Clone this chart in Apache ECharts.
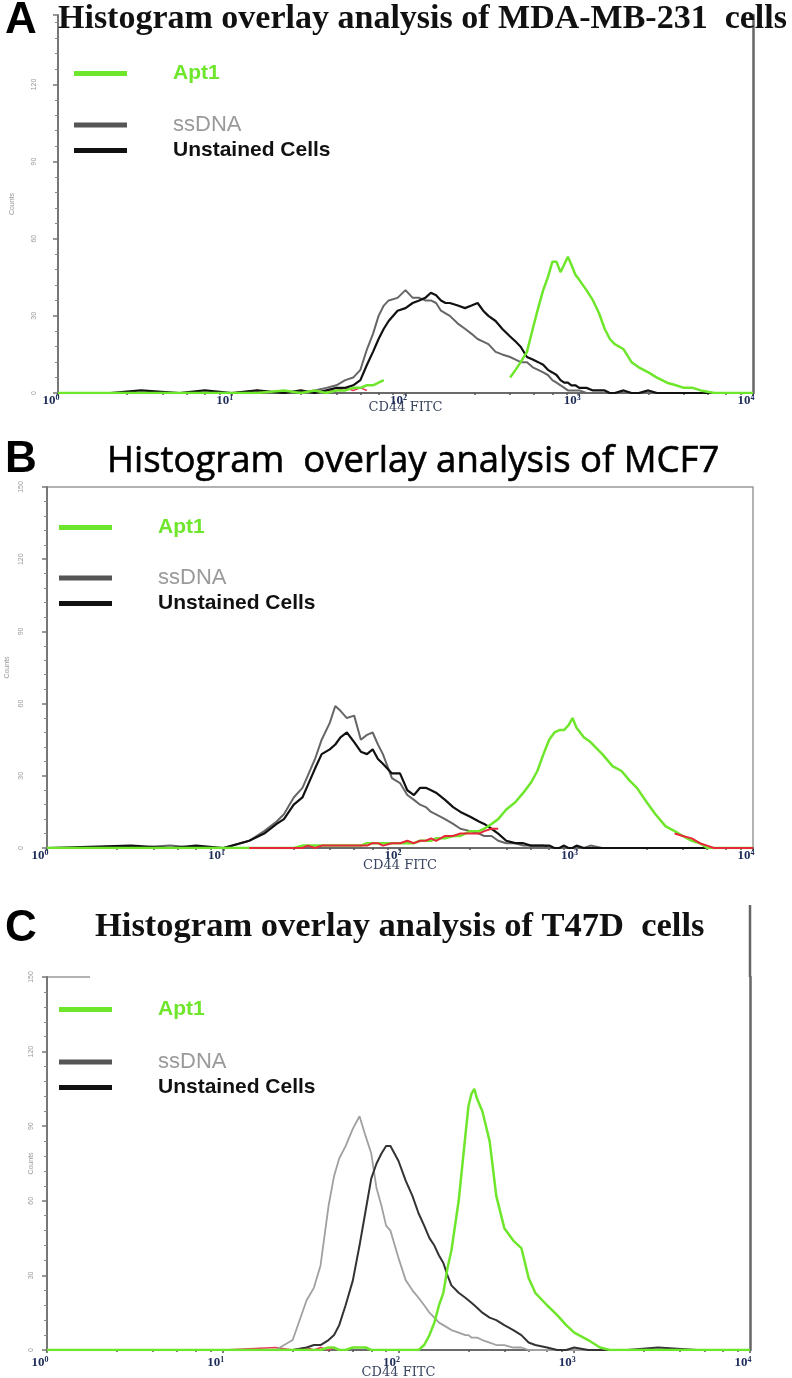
<!DOCTYPE html>
<html><head><meta charset="utf-8">
<script src="https://cdn.jsdelivr.net/npm/echarts@6/dist/echarts.min.js"></script>
<style>html,body{margin:0;padding:0;background:#fff}#chart{width:792px;height:1378px}</style>
</head><body><div id="chart"></div>
<script>
// ---------- Panel A : MDA-MB-231 ----------
const fitcA = [1,2,3,5,7, 10,14,20,25,30, 35,40,45,50,55, 60,65,70,75,80, 90,100,110,120,130, 140,150,160,170,180, 200,220,240,260,280, 300,330,360,400,430, 460,500,540,580,620, 660,700,740,780,820, 860,900,950,1000,1100, 1200,1300,1400,1500,1600, 1800,2000,2200,2500,2800, 3200,3600,4000,4500,5000, 6000,8000,10000];
const ssdnaA = [0,0,0,0,0, 0,0,0,0,1, 2,3,5,6,9, 17,23,30,34,36, 37,40,37,37,36, 36,35,32,31,30, 27,25,23,21,20, 19,16,15,14,13, 12,12,10,9,8, 7,5,4,3,2, 1,1,1,1,0, 0,0,0,0,0, 0,0,0,0,0, 0,0,0,0,0, 0,0,0];
const unstA = [0,0,1,0,1, 0,1,0,1,0, 1,2,2,3,5, 11,16,21,25,28, 32,33,35,36,37, 39,38,36,35,35, 34,33,34,35,32, 30,28,25,22,20, 18,14,13,12,11, 9,8,7,5,4, 4,3,3,2,2, 1,1,1,0,0, 1,0,0,1,0, 0,0,0,0,0, 0,0,0];
const apt1A = [0,0,0,0,0, 0,0,1,0,1, 0,1,1,2,2, 3,3,4,5,null, null,null,null,null,null, null,null,null,null,null, null,null,null,null,null, null,null,null,6,9, 12,16,25,33,40, 45,51,51,47,50, 53,50,46,44,40, 36,31,25,21,19, 17,12,10,8,6, 4,3,2,2,1, 0,0,0];
const redA = [null,null,null,null,null, 0,1,0,1,0, 1,1,2,1,2, 1,null,null,null,null, null,null,null,null,null, null,null,null,null,null, null,null,null,null,null, null,null,null,null,null, null,null,null,null,null, null,null,null,null,null, null,null,null,null,null, null,null,null,null,null, null,null,null,null,null, null,null,null,null,null, null,null,null];

// ---------- Panel B : MCF7 ----------
const fitcB = [1,3,5,7,10, 14,17,20,22,25, 28,30,33,36,40, 43,46,50,55,60, 65,70,75,80,90, 100,110,120,130,140, 150,160,180,200,220, 250,280,300,330,360, 400,450,500,550,600, 650,700,750,800,850, 900,950,1000,1100,1200, 1400,1600,1800,2000,2200, 2500,2800,3200,3600,4000, 4500,5000,5500,6000,8000, 10000];
const ssdnaB = [0,0,1,0,0, 3,7,11,14,21, 25,30,37,45,52, 59,57,54,55,45, 47,48,43,39,29, 27,22,20,18,17, 15,14,12,10,8, 7,6,5,5,3, 2,2,1,1,1, 1,0,0,0,0, 0,0,0,0,1, 0,0,0,0,0, 0,0,0,0,0, 0,0,0,0,0, 0];
const unstB = [0,1,0,1,0, 3,6,10,12,18, 21,26,33,39,41, 43,46,48,44,40, 39,41,37,35,31, 31,24,22,25,25, 24,23,20,17,15, 13,11,10,8,6, 3,2,2,1,1, 1,1,0,0,1, 0,0,1,0,0, 0,0,0,0,0, 0,0,0,0,0, 0,0,0,0,0, 0];
const apt1B = [0,0,0,0,0, 0,0,0,0,0, 1,1,1,1,1, 1,1,1,1,1, 2,2,2,2,2, 2,2,2,3,3, 3,4,4,5,5, 7,7,8,10,12, 16,19,23,27,32, 39,45,48,49,49, 51,54,50,46,44, 39,34,32,28,25, 19,14,9,7,5, 3,2,0,0,0, 0];
const redB = [null,null,null,null,null, 0,0,0,0,0, 0,1,0,1,1, 1,1,1,1,1, 1,2,2,1,2, 2,3,2,3,3, 4,3,5,5,6, 6,6,7,8,8, null,null,null,null,null, null,null,null,null,null, null,null,null,null,null, null,null,null,null,null, null,null,null,6,5, 4,2,1,0,0, 0];

// ---------- Panel C : T47D ----------
const fitcC = [1,3,5,10,20, 25,30,33,36,40, 43,46,50,55,60, 65,70,75,80,85, 90,100,110,120,130, 140,150,160,170,180, 190,200,220,240,250, 260,270,280,300,330, 360,400,450,500,550, 600,700,800,900,1000, 1200,1400,1600,2000,3000, 5000,10000];
const ssdnaC = [0,0,0,0,0, 4,20,25,34,58, 70,77,82,89,94, 86,79,65,58,50, 48,37,28,24,21, 18,15,13,11,10, 9,8,7,6,6, 5,5,5,4,3, 2,2,1,1,0, 0,0,0,0,0, 0,0,0,0,0, 0,0];
const unstC = [0,0,0,0,0, 0,1,2,2,4, 6,10,18,28,42, 56,69,75,79,82, 82,76,68,62,55, 50,45,42,38,35, 30,26,23,21,20, 19,18,17,15,13, 12,10,8,6,3, 2,1,0,0,1, 0,0,0,0,1, 0,0];
const apt1C = [0,0,0,0,0, 0,0,0,0,1, 1,0,0,1,1, 1,0,0,0,0, 0,0,0,0,0, 2,6,11,18,23, 33,40,60,86,98, 103,105,101,96,84, 62,49,44,41,29, 23,18,14,10,7, 4,1,0,0,0, 0,0];
const redC = [null,null,null,0,1, 0,1,0,1,0, 1,0,null,null,null, null,null,null,null,null, null,null,null,null,null, null,null,null,null,null, null,null,null,null,null, null,null,null,null,null, null,null,null,null,null, null,null,null,null,null, null,null,null,null,null, null,null];

const yTicks = [0,30,60,90,120,150];

// ---------- styling ----------
const GREEN = '#6ee62c';
const SERIF = '"Liberation Serif","Times New Roman",serif';
const SANS = '"Liberation Sans",Arial,sans-serif';

function pairs(xs, ys){ return xs.map((x,i)=>[x, ys[i]]); }

function xAx(gi, labelMargin, nameGap){
  return {
    type:'log', logBase:10, min:1, max:10000, gridIndex:gi,
    name:'CD44 FITC', nameLocation:'middle', nameGap:nameGap, nameMoveOverlap:false,
    nameTextStyle:{fontFamily:'"DejaVu Serif",serif', fontSize:13, color:'#3a4560'},
    axisLine:{show:true, lineStyle:{color:'#6a6a6a', width:2}},
    axisTick:{show:true, length:3, lineStyle:{color:'#555', width:1.5}},
    minorTick:{show:true, splitNumber:6, length:2, lineStyle:{color:'#555', width:1.5}},
    splitLine:{show:false}, minorSplitLine:{show:false},
    axisLabel:{
      margin:labelMargin, padding:[0,14,0,0],
      formatter: v => '{b|10}{s|' + Math.round(Math.log10(v)) + '}',
      rich:{
        b:{fontFamily:SERIF, fontSize:13, fontWeight:'bold', color:'#1e2d5a', lineHeight:14},
        s:{fontFamily:SERIF, fontSize:8, fontWeight:'bold', color:'#1e2d5a', verticalAlign:'top', lineHeight:14}
      }
    }
  };
}
function yAx(gi, max, labelMargin, nameGap){
  return {
    type:'value', gridIndex:gi, min:0, max:max, interval:30,
    name:'Counts', nameLocation:'middle', nameGap:nameGap, nameMoveOverlap:false,
    nameTextStyle:{fontFamily:SANS, fontSize:7, color:'#999'},
    axisLine:{show:true, lineStyle:{color:'#777', width:2}},
    axisTick:{show:true, length:5, lineStyle:{color:'#777', width:1.5}},
    minorTick:{show:true, splitNumber:5, length:3, lineStyle:{color:'#888', width:1}},
    splitLine:{show:false},
    axisLabel:{rotate:90, fontSize:7, color:'#999', margin:labelMargin, fontFamily:SANS,
      formatter: v => (yTicks.indexOf(v) >= 0 ? String(v) : '')}
  };
}
function rightAx(gi, max){
  return {type:'value', gridIndex:gi, position:'right', min:0, max:max,
    axisLine:{show:true, lineStyle:{color:'#666', width:2.5}},
    axisTick:{show:false}, axisLabel:{show:false}, splitLine:{show:false}};
}
function line(name, gi, xs, ys, color, width, z){
  return {name:name, type:'line', xAxisIndex:gi, yAxisIndex:gi, data:pairs(xs, ys),
    showSymbol:false, symbol:'none', connectNulls:false, animation:false,
    lineStyle:{color:color, width:width}, itemStyle:{color:color}, z:z};
}
function legends(iconLeft, top1, top2){
  const ts = {fontFamily:SANS, fontSize:21, fontWeight:'bold', padding:[0,0,0,41]};
  return [
    {left:iconLeft, top:top1, padding:0, orient:'vertical', icon:'rect', itemWidth:53, itemHeight:5,
     selectedMode:false, textStyle:ts,
     data:[{name:'Apt1', itemStyle:{color:GREEN}, textStyle:{color:GREEN}}]},
    {left:iconLeft, top:top2, padding:0, orient:'vertical', icon:'rect', itemWidth:53, itemHeight:5, itemGap:4,
     selectedMode:false, textStyle:ts,
     data:[{name:'ssDNA', itemStyle:{color:'#555'}, textStyle:{color:'#9a9a9a', fontWeight:'normal', fontSize:22}},
           {name:'Unstained Cells', itemStyle:{color:'#111'}, textStyle:{color:'#111'}}]}
  ];
}

const option = {
  backgroundColor:'#fff',
  animation:false,
  title:[
    {text:'A', left:5, top:-1, padding:0, textStyle:{fontFamily:SANS, fontSize:44, fontWeight:'bold', color:'#000', lineHeight:44}},
    {text:'Histogram overlay analysis of MDA-MB-231  cells', left:58, top:2, padding:0,
     textStyle:{fontFamily:SERIF, fontSize:34, fontWeight:'bold', color:'#111', lineHeight:34}},
    {text:'B', left:5, top:438, padding:0, textStyle:{fontFamily:SANS, fontSize:44, fontWeight:'bold', color:'#000', lineHeight:44}},
    {text:'Histogram  overlay analysis of MCF7', left:107, top:444, padding:0,
     textStyle:{fontFamily:'"Open Sans",sans-serif', fontSize:36.5, fontWeight:'normal', color:'#000', lineHeight:36,
       textBorderColor:'#000', textBorderWidth:0.6}},
    {text:'C', left:5, top:907, padding:0, textStyle:{fontFamily:SANS, fontSize:44, fontWeight:'bold', color:'#000', lineHeight:44}},
    {text:'Histogram overlay analysis of T47D  cells', left:95, top:910, padding:0,
     textStyle:{fontFamily:SERIF, fontSize:34.5, fontWeight:'bold', color:'#111', lineHeight:34}}
  ],
  legend: [].concat(legends(74, 63, 114), legends(59, 517, 567), legends(59, 999, 1051)),
  grid:[
    {left:58, top:15, right:39, bottom:985, outerBoundsMode:'none'},
    {left:47, top:487, right:39, bottom:530, outerBoundsMode:'none', show:true, borderColor:'#999', borderWidth:1.5},
    {left:47, top:977, right:42, bottom:28, outerBoundsMode:'none'}
  ],
  xAxis:[xAx(0, 1, 8), xAx(1, 1, 11), xAx(2, 6, 16)],
  yAxis:[yAx(0, 147, 20, 42), yAx(1, 150, 22, 36), yAx(2, 150, 12, 12), rightAx(0, 147), rightAx(2, 150)],
  series:[
    line('ssDNA', 0, fitcA, ssdnaA, '#666', 2, 3),
    line('Unstained Cells', 0, fitcA, unstA, '#111', 2.2, 4),
    line('Apt1', 0, fitcA, apt1A, GREEN, 2.5, 5),
    line('control', 0, fitcA, redA, '#e8385a', 1.5, 2),

    line('ssDNA', 1, fitcB, ssdnaB, '#666', 2, 3),
    line('Unstained Cells', 1, fitcB, unstB, '#111', 2.2, 4),
    line('Apt1', 1, fitcB, apt1B, GREEN, 2.5, 5),
    line('control', 1, fitcB, redB, '#e8283a', 2, 6),

    line('ssDNA', 2, fitcC, ssdnaC, '#a0a0a0', 1.8, 3),
    line('Unstained Cells', 2, fitcC, unstC, '#333', 2, 4),
    line('Apt1', 2, fitcC, apt1C, GREEN, 2.5, 5),
    line('control', 2, fitcC, redC, '#e8385a', 1.5, 2)
  ],
  graphic:[
    {type:'line', shape:{x1:750, y1:905, x2:750, y2:977}, style:{stroke:'#666', lineWidth:2.5}},
    {type:'line', shape:{x1:47, y1:977, x2:90, y2:977}, style:{stroke:'#999', lineWidth:1.5}}
  ]
};

const chart = echarts.init(document.getElementById('chart'), null, {renderer:'canvas'});
chart.setOption(option);
</script>
</body></html>
